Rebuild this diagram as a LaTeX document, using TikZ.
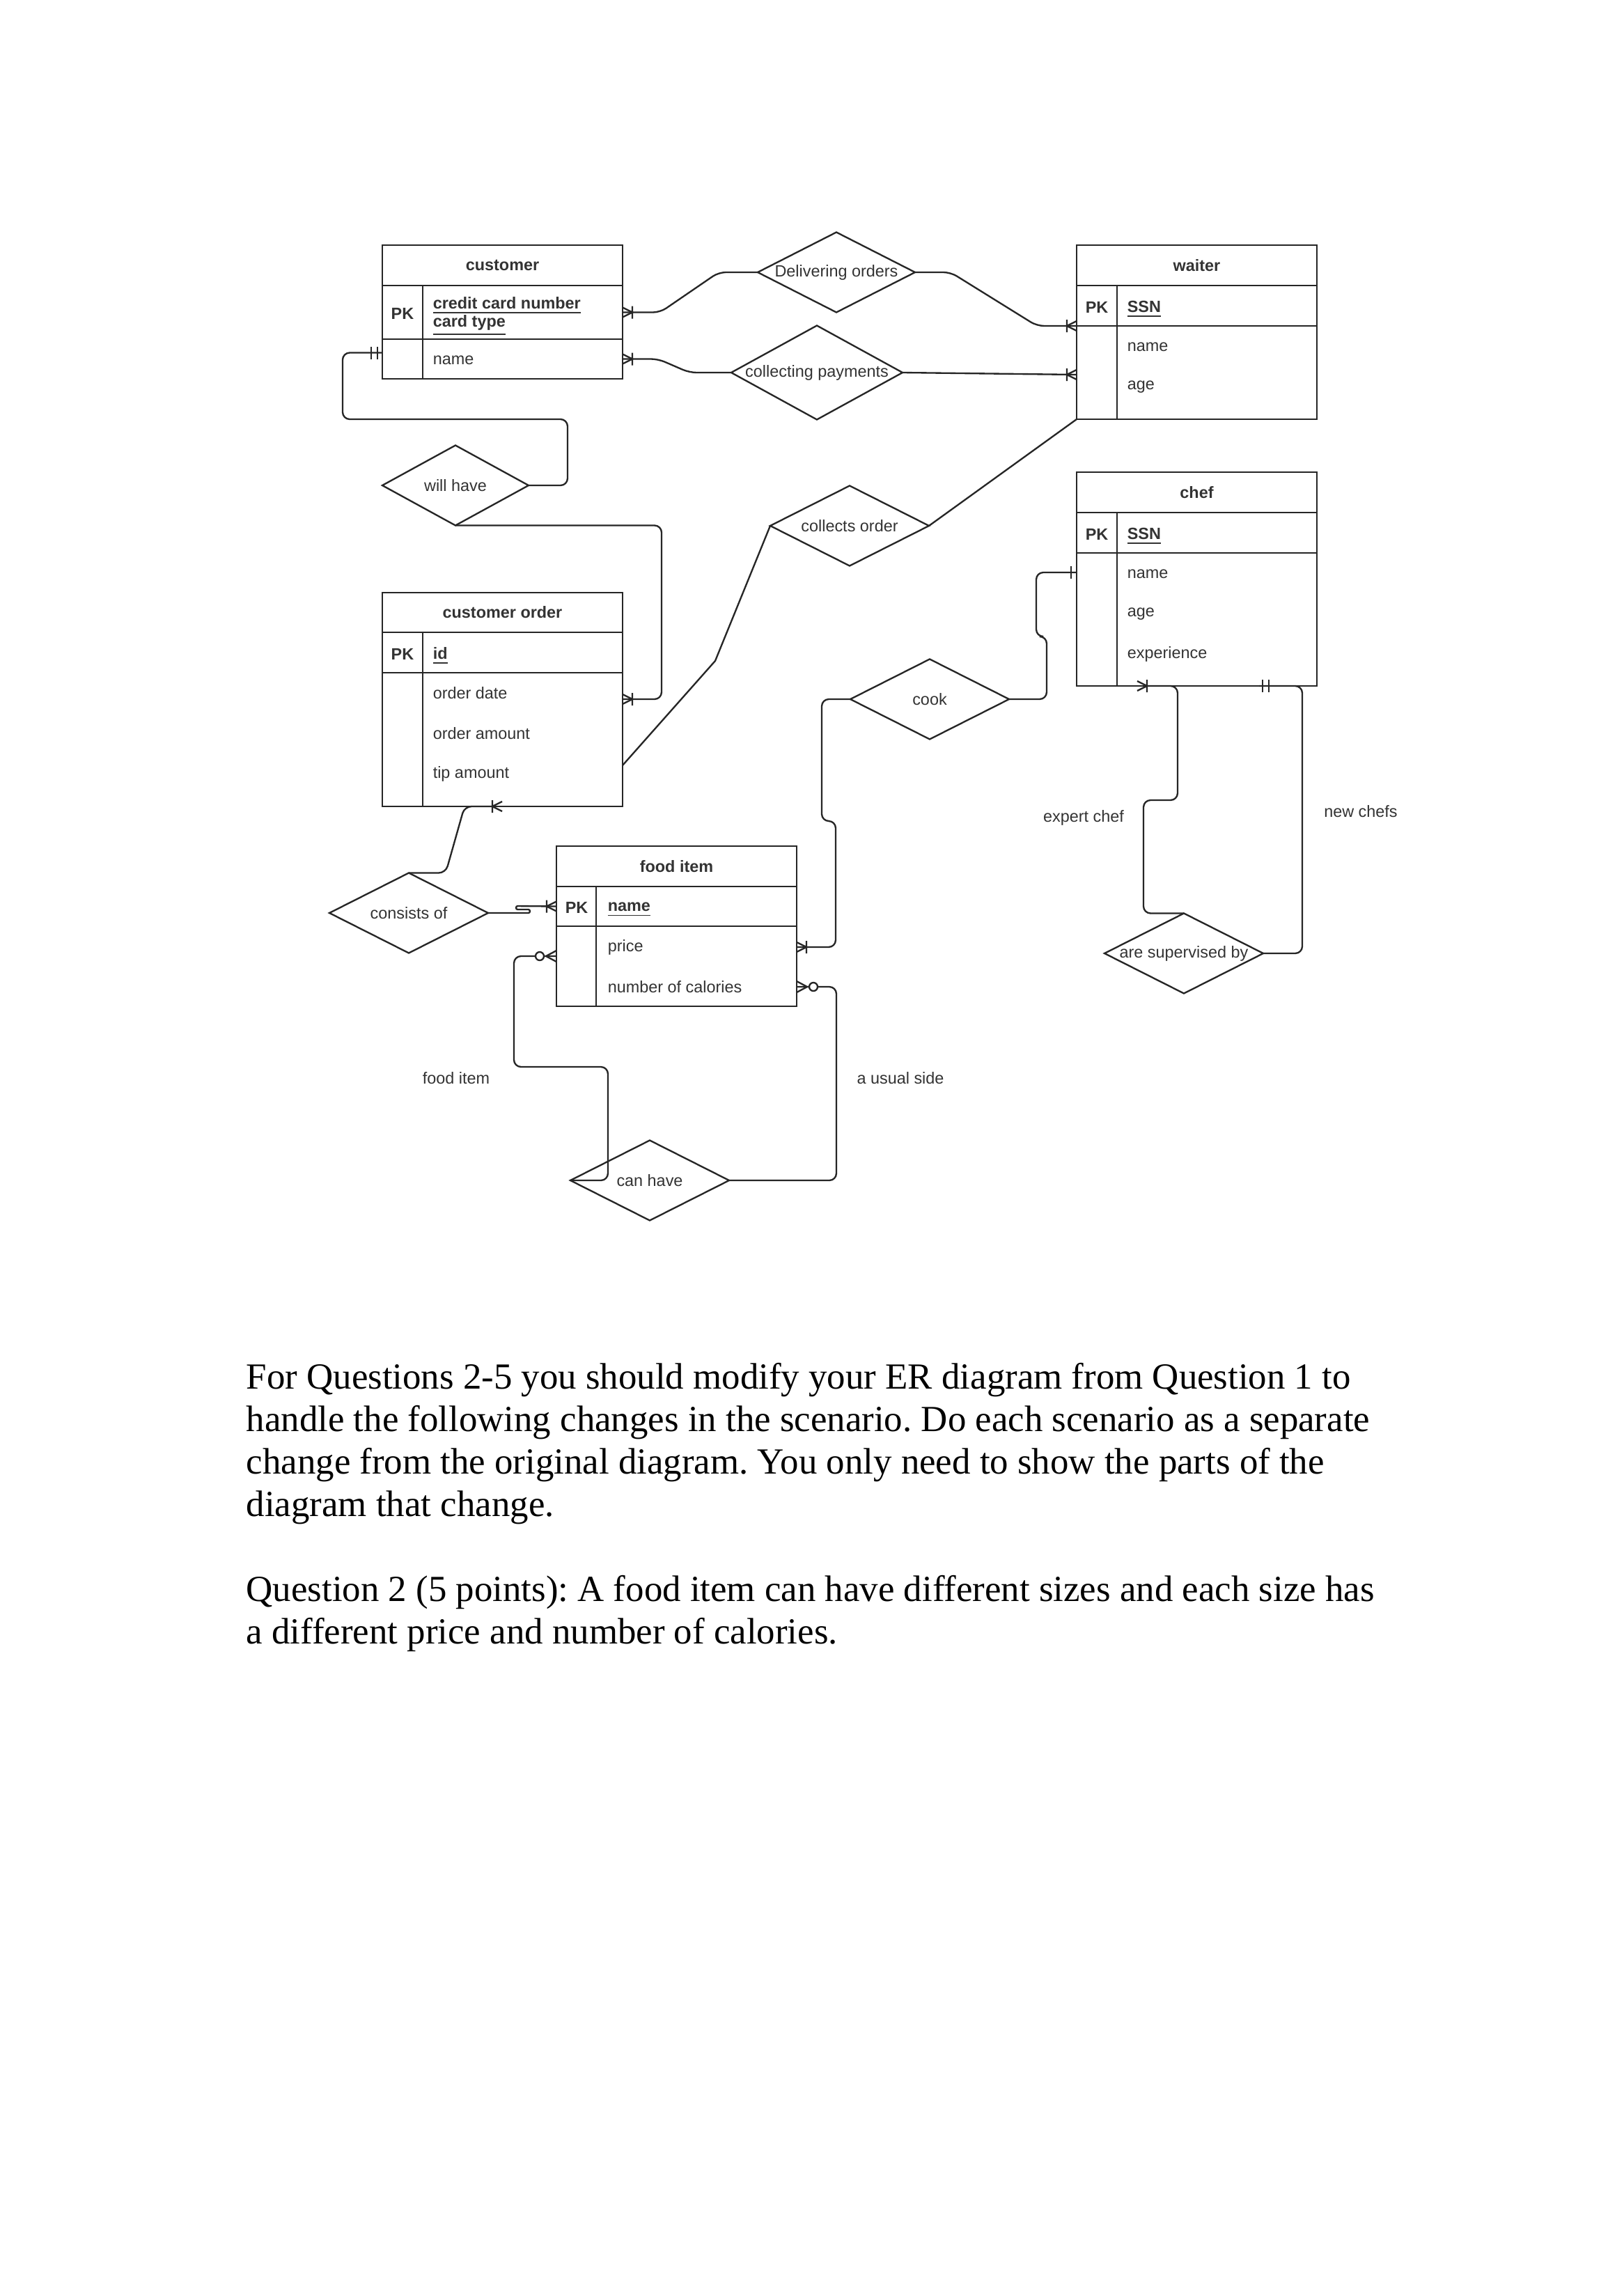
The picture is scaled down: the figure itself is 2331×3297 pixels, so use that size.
\documentclass[tikz,border=0pt]{standalone}
\usepackage{fontspec}
\setmainfont{Liberation Serif}
\setsansfont{Liberation Sans}
\usetikzlibrary{positioning,calc,shapes.geometric}
\newcommand\pxu{0.2563pt}
\tikzset{
  ink/.style={draw=black!85, line width=0.6pt},
  tbl/.style={ink, outer sep=0pt, inner sep=0pt, minimum width=345*\pxu, anchor=north west, font=\sffamily\bfseries\fontsize{6}{7}\selectfont, text=black!80},
  attr/.style={anchor=west, inner sep=0pt, font=\sffamily\fontsize{6}{7}\selectfont, text=black!80},
  keyattr/.style={attr, font=\sffamily\bfseries\fontsize{6}{6.7}\selectfont, align=left},
  pk/.style={inner sep=0pt, font=\sffamily\bfseries\fontsize{6}{7}\selectfont, text=black!80},
  rel/.style={ink, diamond, inner sep=0pt, outer sep=0pt, minimum width=228*\pxu, minimum height=115*\pxu, font=\sffamily\fontsize{6}{7}\selectfont, text=black!80},
  lbl/.style={inner sep=0pt, font=\sffamily\fontsize{6}{7}\selectfont, text=black!80},
  conn/.style={ink, rounded corners=2.6pt},
  para/.style={anchor=base west, inner sep=0pt, font=\fontsize{13.55}{15.6}\selectfont\frenchspacing},
  crowbar/.pic={\draw[ink] (0,-7) -- (14,0) -- (0,7) (14,-9) -- (14,9);},
  crowring/.pic={\draw[ink] (0,-8) -- (15,0) -- (0,8); \draw[ink, fill=white] (24,0) circle (6);},
  onebar/.pic={\draw[ink] (8,-9) -- (8,9);},
  twobar/.pic={\draw[ink] (7,-9) -- (7,9) (16,-9) -- (16,9);},
}
\begin{document}
\begin{tikzpicture}[x=\pxu, y=-\pxu]
\fill[white] (0,0) rectangle (2331,3297);
\useasboundingbox (0,0) rectangle (2331,3297);
% customer
\node[tbl, minimum height=58*\pxu] (cu-h) at (549,352) {customer};
\node[tbl, minimum height=77*\pxu, below=0pt of cu-h] (cu-k) {};
\node[tbl, minimum height=57*\pxu, below=0pt of cu-k] (cu-b) {};
\draw[ink] (cu-k.north west) ++(58,0) coordinate (cu-d) -- (cu-d |- cu-b.south);
\node[pk] (cu-pk) at ($(cu-k.west)+(29,2)$) {PK};
\node[keyattr] (cu-kn) at ($(cu-k.west)+(72,6)$) {\underline{credit card number}\\\underline{card type}};
\node[attr] (cu-a1) at ($(cu-b.north west)+(72,30)$) {name};
% waiter
\node[tbl, minimum height=58*\pxu] (wt-h) at (1546,352) {waiter};
\node[tbl, minimum height=58*\pxu, below=0pt of wt-h] (wt-k) {};
\node[tbl, minimum height=134*\pxu, below=0pt of wt-k] (wt-b) {};
\draw[ink] (wt-k.north west) ++(58,0) coordinate (wt-d) -- (wt-d |- wt-b.south);
\node[pk] (wt-pk) at ($(wt-k.west)+(29,2)$) {PK};
\node[keyattr] (wt-kn) at ($(wt-k.west)+(72,5)$) {\underline{SSN}};
\foreach \a [count=\i] in {name,age}
  \node[attr] (wt-a\i) at ($(wt-b.north west)+(72,30+57.5*\i-57.5)$) {\a};
% chef
\node[tbl, minimum height=58*\pxu] (ch-h) at (1546,678) {chef};
\node[tbl, minimum height=58*\pxu, below=0pt of ch-h] (ch-k) {};
\node[tbl, minimum height=191*\pxu, below=0pt of ch-k] (ch-b) {};
\draw[ink] (ch-k.north west) ++(58,0) coordinate (ch-d) -- (ch-d |- ch-b.south);
\node[pk] (ch-pk) at ($(ch-k.west)+(29,2)$) {PK};
\node[keyattr] (ch-kn) at ($(ch-k.west)+(72,5)$) {\underline{SSN}};
\foreach \a [count=\i] in {name,age,experience}
  \node[attr] (ch-a\i) at ($(ch-b.north west)+(72,30+57.5*\i-57.5)$) {\a};
% customer order
\node[tbl, minimum height=57*\pxu] (co-h) at (549,851) {customer order};
\node[tbl, minimum height=58*\pxu, below=0pt of co-h] (co-k) {};
\node[tbl, minimum height=192*\pxu, below=0pt of co-k] (co-b) {};
\draw[ink] (co-k.north west) ++(58,0) coordinate (co-d) -- (co-d |- co-b.south);
\node[pk] (co-pk) at ($(co-k.west)+(29,2)$) {PK};
\node[keyattr] (co-kn) at ($(co-k.west)+(72,5)$) {\underline{id}};
\foreach \a [count=\i] in {order date,order amount,tip amount}
  \node[attr] (co-a\i) at ($(co-b.north west)+(72,29+58*\i-58)$) {\a};
% food item
\node[tbl, minimum height=58*\pxu] (fi-h) at (799,1215) {food item};
\node[tbl, minimum height=57*\pxu, below=0pt of fi-h] (fi-k) {};
\node[tbl, minimum height=115*\pxu, below=0pt of fi-k] (fi-b) {};
\draw[ink] (fi-k.north west) ++(57,0) coordinate (fi-d) -- (fi-d |- fi-b.south);
\node[pk] (fi-pk) at ($(fi-k.west)+(29,2)$) {PK};
\node[keyattr] (fi-kn) at ($(fi-k.west)+(73,5)$) {\underline{name}};
\foreach \a [count=\i] in {price,number of calories}
  \node[attr] (fi-a\i) at ($(fi-b.north west)+(73,30+57*\i-57)$) {\a};
% relationships
\node[rel, minimum width=226*\pxu] (dlv) at (1201,391) {\makebox[0pt]{Delivering orders}};
\node[rel, minimum width=246*\pxu, minimum height=135*\pxu] (col) at (1173,535) {\makebox[0pt]{collecting payments}};
\node[rel, minimum width=210*\pxu] (will) at (654,697) {\makebox[0pt]{will have}};
\node[rel] (cord) at (1220,755) {\makebox[0pt]{collects order}};
\node[rel] (cook) at (1335,1004) {\makebox[0pt]{cook}};
\node[rel] (cons) at (587,1311) {\makebox[0pt]{consists of}};
\node[rel] (canh) at (933,1695) {\makebox[0pt]{can have}};
\node[rel] (sup) at (1700,1369) {\makebox[0pt]{are supervised by}};
% role labels
\node[lbl] (l-exp) at (1556,1174) {expert chef};
\node[lbl] (l-new) at (1954,1165) {new chefs};
\node[lbl] (l-fi) at (655,1548) {food item};
\node[lbl] (l-side) at (1293,1548) {a usual side};
% connectors
\draw[conn] (cu-k.east) -- ++(54,0) -- ($(dlv.west)+(-56,0)$) -- (dlv.west);
\draw[conn] (dlv.east) -- ++(51,0) -- ($(wt-k.south west)+(-57,0)$) -- (wt-k.south west);
\draw[conn] (cu-b.east) -- ++(51,0) -- ($(col.west)+(-60,0)$) -- (col.west);
\draw[ink] (col.east) -- ($(wt-b.west)+(0,3)$);
\draw[conn] ($(cu-b.west)+(0,-9)$) -- ++(-57,0) |- ($(will.east)+(56,-95)$) |- (will.east);
\draw[conn] (will.south) -| ($(co-b.north east)+(56,38)$) -- ($(co-b.north east)+(0,38)$);
\draw[ink] (cord.east) -- (wt-b.south west);
\draw[ink] (cord.west) -- ++(-79,194) -- ($(co-b.east)+(0,37)$);
\draw[conn] (cook.east) -- ++(54,0) -- ++(0,-90) -- ++(-15,0) |- ($(ch-b.north west)+(0,28)$);
\draw[conn] (cook.west) -- ++(-41,0) -- ++(0,175) -- ++(20,0) |- ($(fi-b.north east)+(0,30)$);
\draw[conn] (cons.north) -- ++(53,0) -- ($(co-b.south west)+(118,0)$) -- ($(co-b.south west)+(158,0)$);
\draw[ink, rounded corners=0.6pt] (cons.east) -- ++(60,0) -- ++(0,-5) -- ++(-20,0) -- ++(0,-5) -- (fi-k.west);
\draw[conn] ($(fi-b.north west)+(0,43)$) -- ++(-61,0) |- ($(canh.west)+(54,-163)$) |- (canh.west);
\draw[conn] (canh.east) -| ($(fi-b.north east)+(57,87)$) -- ($(fi-b.north east)+(0,87)$);
\draw[conn] (sup.north) -| ($(ch-b.south west)+(96,164)$) -- ++(49,0) |- ($(ch-b.south west)+(101,0)$);
\draw[conn] (sup.east) -| ($(ch-b.south west)+(324,0)$) -- ($(ch-b.south west)+(262,0)$);
% cardinality marks
\pic at (cu-k.east) {crowbar};
\pic at (cu-b.east) {crowbar};
\pic[rotate=180] at (wt-k.south west) {crowbar};
\pic[rotate=180] at ($(wt-b.west)+(0,3)$) {crowbar};
\pic[rotate=180] at ($(cu-b.west)+(0,-9)$) {twobar};
\pic at ($(co-b.north east)+(0,38)$) {crowbar};
\pic[rotate=180] at ($(co-b.south west)+(172,0)$) {crowbar};
\pic[rotate=180] at ($(ch-b.north west)+(0,28)$) {onebar};
\pic at ($(fi-b.north east)+(0,30)$) {crowbar};
\pic[rotate=180] at (fi-k.west) {crowbar};
\pic[rotate=180] at ($(fi-b.north west)+(0,43)$) {crowring};
\pic at ($(fi-b.north east)+(0,87)$) {crowring};
\pic at ($(ch-b.south west)+(87,0)$) {crowbar};
\pic[rotate=180] at ($(ch-b.south west)+(283,0)$) {twobar};
% question text
\foreach \y/\t [count=\i] in {1994/For Questions 2-5 you should modify your ER diagram from Question 1 to,
  2055/handle the following changes in the scenario. Do each scenario as a separate,
  2116/change from the original diagram. You only need to show the parts of the,
  2177/diagram that change.,
  2299/Question 2 (5 points): A food item can have different sizes and each size has,
  2360/a different price and number of calories.}
  \node[para] (q\i) at (353,\y) {\t};
\end{tikzpicture}
\end{document}
